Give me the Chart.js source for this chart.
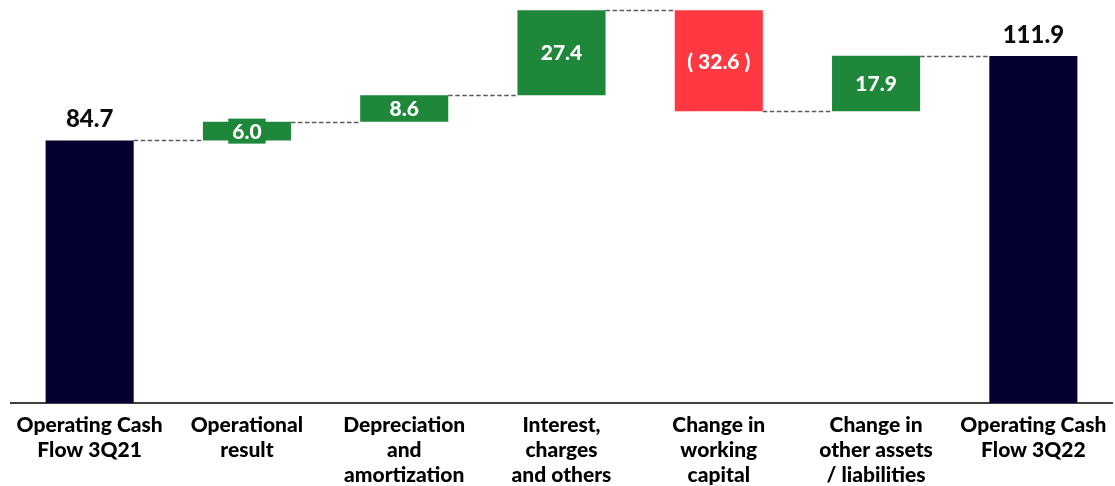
<!DOCTYPE html>
<html>
<head>
<meta charset="utf-8">
<title>Operating Cash Flow 3Q21 → 3Q22</title>
<script src="https://cdn.jsdelivr.net/npm/chart.js@4/dist/chart.umd.min.js"></script>
<style>
  html, body { margin: 0; padding: 0; background: #ffffff; }
  #wrap { position: relative; width: 1115px; height: 486px; }
</style>
</head>
<body>
<div id="wrap"><canvas id="cf"></canvas></div>
<script>
// Bridge from 3Q21 to 3Q22 operating cash flow
const categories = [
  ["Operating Cash", "Flow 3Q21"],
  ["Operational", "result"],
  ["Depreciation", "and", "amortization"],
  ["Interest,", "charges", "and others"],
  ["Change in", "working", "capital"],
  ["Change in", "other assets", "/ liabilities"],
  ["Operating Cash", "Flow 3Q22"]
];
const values = [84.7, 6.0, 8.6, 27.4, -32.6, 17.9, 111.9];
const kinds  = ["total", "step", "step", "step", "step", "step", "total"];

const COLORS = { total: "#04002f", up: "#1e873a", down: "#ff3841" };
const FONT = "Lato, 'Open Sans', 'DejaVu Sans', sans-serif";

// Floating bar ranges and the running level after each bar
const ranges = [];
const levels = [];
let running = 0;
values.forEach((v, i) => {
  if (kinds[i] === "total") {
    ranges.push([0, v]);
    running = v;
  } else {
    ranges.push([running, running + v]);
    running += v;
  }
  levels.push(running);
});
const barColors = values.map((v, i) =>
  kinds[i] === "total" ? COLORS.total : (v >= 0 ? COLORS.up : COLORS.down));
const fmt = v => v < 0 ? "( " + Math.abs(v).toFixed(1) + " )" : v.toFixed(1);

const waterfallDecor = {
  id: "waterfallDecor",
  afterDatasetsDraw(chart) {
    const ctx = chart.ctx;
    const meta = chart.getDatasetMeta(0);
    const ys = chart.scales.y;

    // dashed connectors between neighbouring bars
    ctx.save();
    ctx.strokeStyle = "#5a5a5a";
    ctx.lineWidth = 1.3;
    ctx.setLineDash([4.5, 2.5]);
    for (let i = 0; i < meta.data.length - 1; i++) {
      const a = meta.data[i], b = meta.data[i + 1];
      const y = Math.round(ys.getPixelForValue(levels[i])) + 0.5;
      ctx.beginPath();
      ctx.moveTo(a.x + a.width / 2, y);
      ctx.lineTo(b.x - b.width / 2, y);
      ctx.stroke();
    }
    ctx.restore();

    // value labels
    ctx.save();
    ctx.textAlign = "center";
    ctx.textBaseline = "middle";
    meta.data.forEach((bar, i) => {
      const text = fmt(values[i]);
      if (kinds[i] === "total") {
        ctx.font = "900 24px " + FONT;
        ctx.fillStyle = "#0d0d0d";
        ctx.fillText(text, bar.x, Math.min(bar.y, bar.base) - 21);
      } else {
        ctx.font = "900 21px " + FONT;
        const cy = (bar.y + bar.base) / 2;
        const w = ctx.measureText(text).width + 8;
        ctx.fillStyle = barColors[i];
        ctx.fillRect(bar.x - w / 2, cy - 12.5, w, 25);
        ctx.fillStyle = "#ffffff";
        ctx.fillText(text, bar.x, cy + 1);
      }
    });
    ctx.restore();
  }
};

new Chart(document.getElementById("cf"), {
  type: "bar",
  data: {
    labels: categories,
    datasets: [{
      data: ranges,
      backgroundColor: barColors,
      borderWidth: 0,
      barPercentage: 0.56,
      categoryPercentage: 1.0
    }]
  },
  options: {
    responsive: true,
    maintainAspectRatio: false,
    animation: false,
    layout: { padding: { left: 11, right: 3, top: 0, bottom: 0 } },
    plugins: { legend: { display: false }, tooltip: { enabled: false } },
    scales: {
      x: {
        grid: { display: false, drawTicks: false },
        border: { display: true, color: "#404040", width: 2 },
        ticks: {
          color: "#000000",
          padding: 10,
          maxRotation: 0,
          autoSkip: false,
          font: { family: FONT, size: 21, weight: "900", lineHeight: 1.19 }
        },
        afterFit(scale) {
          scale.height = 83;
          scale.paddingLeft = 0;
          scale.paddingRight = 0;
        }
      },
      y: {
        display: false,
        min: 0,
        max: 130
      }
    }
  },
  plugins: [waterfallDecor]
});
</script>
</body>
</html>
